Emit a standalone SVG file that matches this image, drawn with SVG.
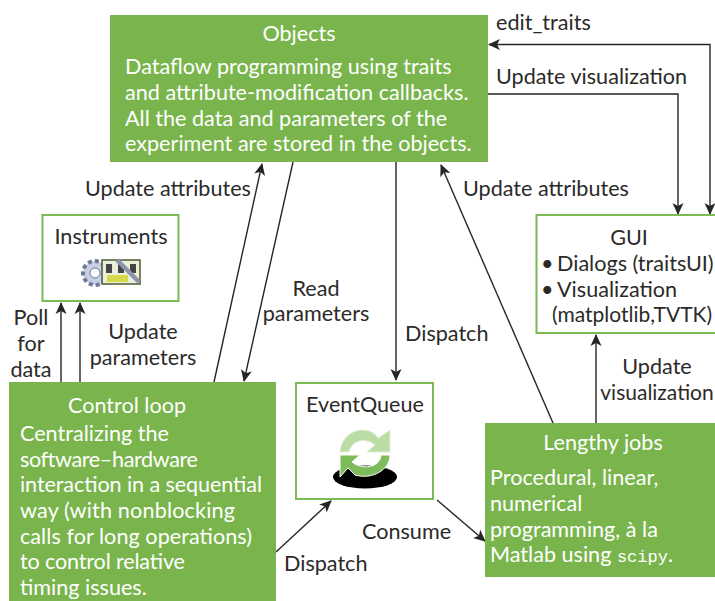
<svg xmlns="http://www.w3.org/2000/svg" width="715" height="601" viewBox="0 0 715 601">
<style>
text{font-family:"Lato","Open Sans","Liberation Sans",sans-serif;font-size:21.600px;fill:#2b2a29}
.w{fill:#fff}
.m{text-anchor:middle}
.fill{fill:#79b54c}
.out{fill:#fff;stroke:#7cb957;stroke-width:2}
.c{fill:none;stroke:#262626;stroke-width:1.4}
</style>
<defs>
<marker id="a" viewBox="0 0 12 12" refX="11" refY="6" markerWidth="12" markerHeight="12" markerUnits="userSpaceOnUse" orient="auto-start-reverse"><path d="M0 0.500L12 6L0 11.500L3 6Z" fill="#262626"/></marker>
</defs>
<rect width="715" height="601" fill="#fff"/>
<g id="connectors">
<path class="c" d="M214 382L262 164" marker-end="url(#a)"/>
<path class="c" d="M293 162L244 381" marker-end="url(#a)"/>
<path class="c" d="M396 162V380" marker-end="url(#a)"/>
<path class="c" d="M553 423L441 165" marker-end="url(#a)"/>
<path class="c" d="M596 423V335" marker-end="url(#a)"/>
<path class="c" d="M488 94H678V214" marker-end="url(#a)"/>
<path class="c" d="M489 44.500H710V214" marker-start="url(#a)" marker-end="url(#a)"/>
<path class="c" d="M61 382V303" marker-end="url(#a)"/>
<path class="c" d="M80 382V303" marker-end="url(#a)"/>
<path class="c" d="M276 552L331 501" marker-end="url(#a)"/>
<path class="c" d="M437 500L485 541" marker-end="url(#a)"/>
</g>
<g id="objects">
<rect class="fill" x="110" y="15" width="378" height="147"/>
<text class="w m" x="299" y="41">Objects</text>
<text class="w" x="125" y="74">Dataflow programming using traits</text>
<text class="w" x="125" y="100">and attribute-modification callbacks.</text>
<text class="w" x="125" y="126">All the data and parameters of the</text>
<text class="w" x="125" y="151">experiment are stored in the objects.</text>
</g>
<g id="instruments">
<rect class="out" x="42.500" y="215" width="136" height="86"/>
<text class="m" x="111" y="244">Instruments</text>
<g>
<circle cx="95" cy="273" r="12" fill="#c9cfe6" stroke="#6f7894" stroke-width="4" stroke-dasharray="4 3"/>
<circle cx="95" cy="273" r="5" fill="#fff" stroke="#6f7894"/>
<rect x="102" y="260" width="38" height="24" fill="#e9efd8" stroke="#4e5a33" stroke-width="1.500"/>
<rect x="106" y="264" width="6" height="9" fill="#444"/>
<rect x="118" y="264" width="6" height="9" fill="#444"/>
<rect x="130" y="264" width="6" height="9" fill="#444"/>
<rect x="107" y="275" width="21" height="7" fill="#d4d84a"/>
<path d="M117 260L139 282" stroke="#8c93ae" stroke-width="4.500" fill="none"/>
</g>
</g>
<g id="gui">
<rect class="out" x="536.500" y="215" width="180" height="118"/>
<text class="m" x="629" y="245">GUI</text>
<text x="541" y="271">•<tspan x="557">Dialogs (traitsUI)</tspan></text>
<text x="541" y="297">•<tspan x="557">Visualization</tspan></text>
<text x="552" y="322" style="font-size:21px">(matplotlib,TVTK)</text>
</g>
<g id="eventqueue">
<rect class="out" x="296" y="383" width="137" height="116"/>
<text class="m" x="365" y="412">EventQueue</text>
<g>
<ellipse cx="365" cy="477" rx="32" ry="11.500" fill="#000"/>
<path d="M340 452C342 428 370 424 378 438L390 430V452H367L375 445C365 437 352 440 349 452Z" fill="#bcdca6" stroke="#e3f0d9"/>
<path d="M390 455C390 470 372 480 355 475L348 468L340 477V455H360L352 462C362 470 380 468 381 455Z" fill="#7dbb5c" stroke="#fff"/>
</g>
</g>
<g id="control-loop">
<rect class="fill" x="9" y="382" width="267" height="219"/>
<text class="w m" x="127" y="413">Control loop</text>
<text class="w" x="20" y="441">Centralizing the</text>
<text class="w" x="20" y="467" textLength="178">software–hardware</text>
<text class="w" x="20" y="492" textLength="242">interaction in a sequential</text>
<text class="w" x="20" y="518" textLength="215">way (with nonblocking</text>
<text class="w" x="20" y="544" textLength="232">calls for long operations)</text>
<text class="w" x="20" y="569" textLength="165">to control relative</text>
<text class="w" x="20" y="595">timing issues.</text>
</g>
<g id="lengthy-jobs">
<rect class="fill" x="485" y="423" width="230" height="154"/>
<text class="w m" x="603" y="450">Lengthy jobs</text>
<text class="w" x="490" y="485">Procedural, linear,</text>
<text class="w" x="490" y="511">numerical</text>
<text class="w" x="490" y="537">programming, à la</text>
<text class="w" x="490" y="562">Matlab using <tspan style="font-family:'Liberation Mono','DejaVu Sans Mono',monospace;font-size:17px">scipy</tspan>.</text>
</g>
<g id="labels">
<text x="496" y="30">edit_traits</text>
<text x="496" y="84">Update visualization</text>
<text x="85" y="196">Update attributes</text>
<text x="463" y="196">Update attributes</text>
<text class="m" x="316" y="296">Read</text>
<text class="m" x="316" y="321">parameters</text>
<text x="405" y="341">Dispatch</text>
<text class="m" x="31" y="325">Poll</text>
<text class="m" x="31" y="351">for</text>
<text class="m" x="31" y="377">data</text>
<text class="m" x="143" y="339">Update</text>
<text class="m" x="143" y="365">parameters</text>
<text class="m" x="657" y="374">Update</text>
<text class="m" x="657" y="400" style="font-size:21px">visualization</text>
<text x="362" y="539">Consume</text>
<text x="284" y="571">Dispatch</text>
</g>
</svg>
